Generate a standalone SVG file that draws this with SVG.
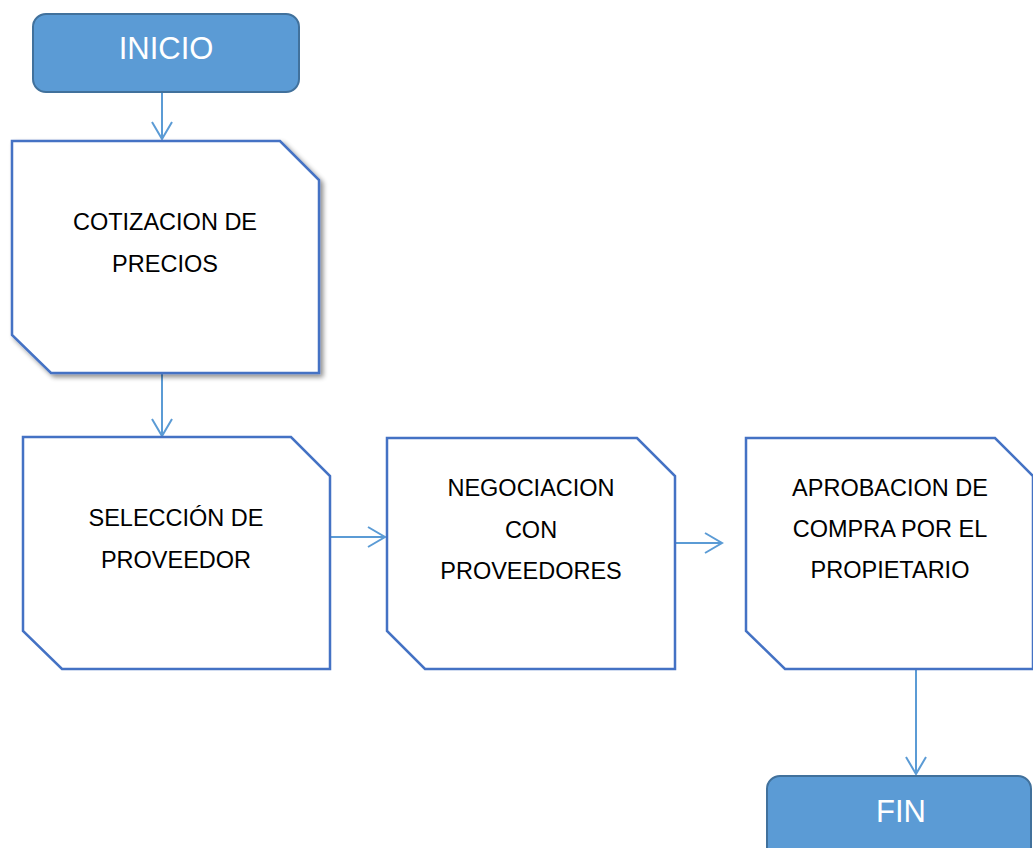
<svg xmlns="http://www.w3.org/2000/svg" width="1033" height="848" viewBox="0 0 1033 848">
<style>
.term{fill:#5B9BD5;stroke:#41719C;stroke-width:2}
.termt{font-family:"Liberation Sans",Arial,sans-serif;font-size:31px;fill:#fff;text-anchor:middle}
.box{fill:#fff;stroke:#4472C4;stroke-width:2.5;stroke-linejoin:miter}
.bt{font-family:"Liberation Sans",Arial,sans-serif;font-size:23.5px;fill:#000;text-anchor:middle}
.con{fill:none;stroke:#5B9BD5;stroke-width:2}
</style>
<defs>
<filter id="sh" x="-10%" y="-10%" width="130%" height="130%">
<feGaussianBlur in="SourceAlpha" stdDeviation="2.5"/>
<feOffset dx="3" dy="3" result="b"/>
<feComponentTransfer><feFuncA type="linear" slope="0.45"/></feComponentTransfer>
<feMerge><feMergeNode/><feMergeNode in="SourceGraphic"/></feMerge>
</filter>
</defs>
<rect width="1033" height="848" fill="#fff"/>
<g id="connectors">
<path class="con" d="M162 92V139M152 122L162 139L172 122"/>
<path class="con" d="M162 373V436M152 419L162 436L172 419"/>
<path class="con" d="M331 537H385M368 527L385 537L368 547"/>
<path class="con" d="M676 543H722M705 533L722 543L705 553"/>
<path class="con" d="M916 670V774M906 757L916 774L926 757"/>
</g>
<g id="inicio">
<rect class="term" x="33" y="14" width="266" height="78" rx="13"/>
<text class="termt" x="166" y="59">INICIO</text>
</g>
<g id="cotizacion">
<path class="box" filter="url(#sh)" d="M12 141H280L319 180V373H51L12 335Z"/>
<text class="bt" x="165" y="230">COTIZACION DE</text>
<text class="bt" x="165" y="272">PRECIOS</text>
</g>
<g id="seleccion">
<path class="box" d="M23 437H291L330 476V669H62L23 631Z"/>
<text class="bt" x="176" y="526">SELECCIÓN DE</text>
<text class="bt" x="176" y="568">PROVEEDOR</text>
</g>
<g id="negociacion">
<path class="box" d="M387 438H637L675 476V669H425L387 631Z"/>
<text class="bt" x="531" y="496">NEGOCIACION</text>
<text class="bt" x="531" y="538">CON</text>
<text class="bt" x="531" y="579">PROVEEDORES</text>
</g>
<g id="aprobacion">
<path class="box" d="M746 438H995L1033 476V669H785L746 631Z"/>
<text class="bt" x="890" y="496">APROBACION DE</text>
<text class="bt" x="890" y="537">COMPRA POR EL</text>
<text class="bt" x="890" y="578">PROPIETARIO</text>
</g>
<g id="fin">
<rect class="term" x="767" y="776" width="264" height="90" rx="13"/>
<text class="termt" x="901" y="822">FIN</text>
</g>
</svg>
